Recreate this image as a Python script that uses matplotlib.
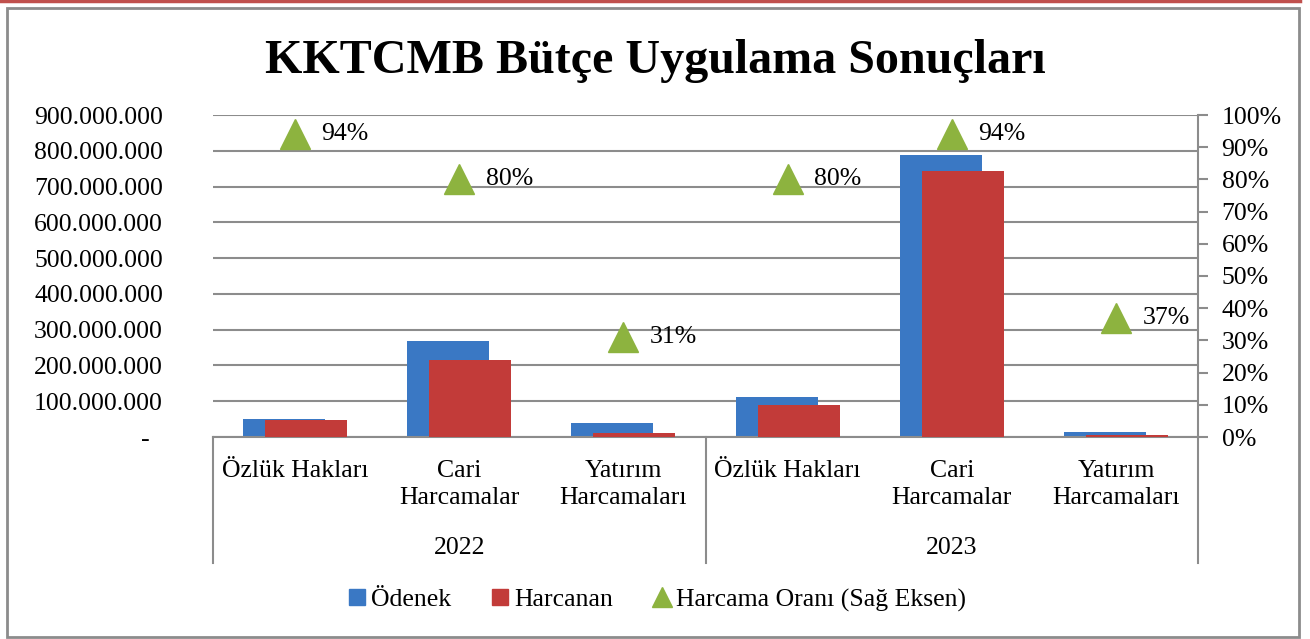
import numpy as np
import matplotlib.pyplot as plt
from matplotlib.lines import Line2D
from matplotlib.patches import Rectangle

plt.rcParams['font.family'] = ['Liberation Serif', 'DejaVu Serif']

# veriler
kategoriler = ['Özlük Hakları', 'Cari\nHarcamalar', 'Yatırım\nHarcamaları',
               'Özlük Hakları', 'Cari\nHarcamalar', 'Yatırım\nHarcamaları']
yillar = ['2022', '2023']
odenek = [50e6, 268e6, 39e6, 112e6, 788e6, 14e6]
harcanan = [47e6, 215e6, 12e6, 89e6, 743e6, 5.2e6]
oran = [0.94, 0.80, 0.31, 0.80, 0.94, 0.37]
oran_etiket = ['94%', '80%', '31%', '80%', '94%', '37%']

mavi = '#3A78C4'
kirmizi = '#C23B39'
yesil = '#8DB33F'
gri = '#8C8C8C'
fs = 18.5

W, H = 1310, 639
fig = plt.figure(figsize=(W / 100, H / 100), dpi=100)

# cerceve ve ust kirmizi cizgi
fig.add_artist(Rectangle((7 / W, 1 - 637 / H), 1292 / W, 629 / H, transform=fig.transFigure,
                         fill=False, edgecolor=gri, linewidth=2))
fig.add_artist(Line2D([0, 1300 / W], [1 - 1 / H, 1 - 1 / H], transform=fig.transFigure,
                      color='#C0504D', linewidth=2.5))

ax = fig.add_axes([213 / W, 1 - 437 / H, 985 / W, 322 / H])
x = np.arange(len(kategoriler))
ax.bar(x - 0.067, odenek, width=0.5, color=mavi, zorder=2)
ax.bar(x + 0.067, harcanan, width=0.5, color=kirmizi, zorder=3)
ax.set_xlim(-0.5, 5.5)
ax.set_ylim(0, 900e6)
ax.set_yticks(np.arange(0, 901e6, 100e6))
ax.yaxis.grid(True, color=gri, linewidth=1.5)
ax.set_axisbelow(True)

def fmt(v, pos):
    if v == 0:
        return '-  '
    return '{:,.0f}'.format(v).replace(',', '.')

ax.yaxis.set_major_formatter(plt.FuncFormatter(fmt))
ax.tick_params(axis='y', length=0, pad=36, labelsize=fs)
ax.set_xticks([])
for s in ['top', 'left', 'right']:
    ax.spines[s].set_visible(False)
ax.spines['bottom'].set_color(gri)
ax.spines['bottom'].set_linewidth(1.5)

# ikincil eksen
ax2 = ax.twinx()
ax2.set_ylim(0, 1)
ax2.set_yticks(np.arange(0, 1.01, 0.1))
ax2.yaxis.set_major_formatter(plt.FuncFormatter(lambda v, p: '{:.0f}%'.format(v * 100)))
ax2.tick_params(axis='y', length=7, width=1.5, color=gri, pad=10, labelsize=fs)
for s in ['top', 'left', 'bottom']:
    ax2.spines[s].set_visible(False)
ax2.spines['right'].set_color(gri)
ax2.spines['right'].set_linewidth(1.5)
ax2.plot(x, oran, linestyle='none', marker='^', markersize=22, color=yesil, zorder=5)
for xi, yi, t in zip(x, oran, oran_etiket):
    ax2.annotate(t, (xi, yi), xytext=(19, 0), textcoords='offset points',
                 va='center', ha='left', fontsize=fs)

# kategori etiketleri
tr = ax.get_xaxis_transform()
for xi, k in zip(x, kategoriler):
    ax.text(xi, -0.07, k, transform=tr, ha='center', va='top', fontsize=fs,
            linespacing=1.35)
for i, yil in enumerate(yillar):
    ax.text(1 + 3 * i, -0.345, yil, transform=tr, ha='center', va='center', fontsize=fs)
for xs in [-0.5, 2.5, 5.5]:
    ax.add_line(Line2D([xs, xs], [0, -0.39], transform=tr, color=gri, linewidth=1.5,
                       clip_on=False))

fig.text(0.5, 1 - 61 / H, 'KKTCMB Bütçe Uygulama Sonuçları', ha='center', va='center',
         fontsize=34.6, fontweight='bold')

h = [Line2D([], [], linestyle='none', marker='s', markersize=12, color=mavi),
     Line2D([], [], linestyle='none', marker='s', markersize=12, color=kirmizi),
     Line2D([], [], linestyle='none', marker='^', markersize=14, color=yesil)]
fig.legend(h, ['Ödenek', 'Harcanan', 'Harcama Oranı (Sağ Eksen)'], loc='center',
           bbox_to_anchor=(655 / W, 1 - 600 / H), ncol=3, frameon=False, fontsize=fs,
           handletextpad=0.05, columnspacing=1.4, handlelength=1)

fig.savefig('out.png', dpi=100)
